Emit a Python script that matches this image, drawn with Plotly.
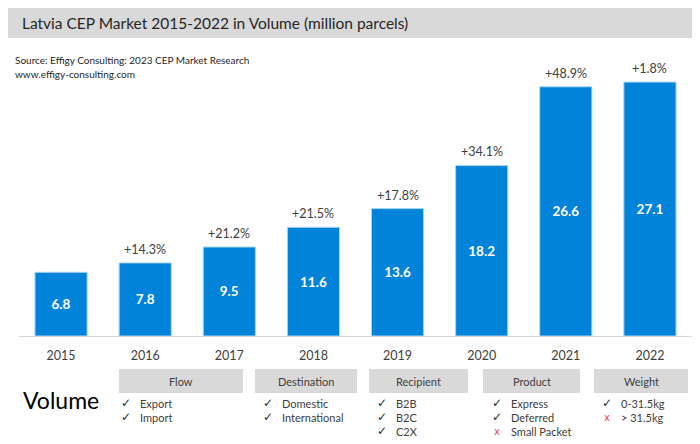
import plotly.graph_objects as go

W, H = 700, 444

years = ['2015', '2016', '2017', '2018', '2019', '2020', '2021', '2022']
volume = [6.8, 7.8, 9.5, 11.6, 13.6, 18.2, 26.6, 27.1]
growth = ['', '+14.3%', '+21.2%', '+21.5%', '+17.8%', '+34.1%', '+48.9%', '+1.8%']

title_text = 'Latvia CEP Market 2015-2022 in Volume (million parcels)'
source_lines = ['Source: Effigy Consulting: 2023 CEP Market Research', 'www.effigy-consulting.com']

categories = ['Flow', 'Destination', 'Recipient', 'Product', 'Weight']
cat_items = [
    [('Export', True), ('Import', True)],
    [('Domestic', True), ('International', True)],
    [('B2B', True), ('B2C', True), ('C2X', True)],
    [('Express', True), ('Deferred', True), ('Small Packet', False)],
    [('0-31.5kg', True), ('> 31.5kg', False)],
]

FONT = 'Lato'
BAR = '#0283DA'
GREY = '#D9D9D9'
TXT = '#404040'


def px(x):
    return x / W


def py(y):
    return 1 - y / H


fig = go.Figure()
fig.add_trace(go.Bar(
    x=years, y=volume,
    marker=dict(color=BAR, line=dict(color='#A9D6F5', width=1)),
    text=[f'{v:.1f}' for v in volume],
    textposition='inside', insidetextanchor='middle',
    textfont=dict(family=FONT, size=13.5, color='white', weight='bold'),
    width=0.62, hoverinfo='skip',
))

ann = []
shapes = []

# growth labels above bars (category axis -> use index)
for i, (v, g) in enumerate(zip(volume, growth)):
    if g:
        ann.append(dict(x=i, y=v, xref='x', yref='y', text=g, showarrow=False,
                        yanchor='bottom', yshift=4,
                        font=dict(family=FONT, size=12.5, color=TXT)))

# title band
shapes.append(dict(type='rect', xref='paper', yref='paper', x0=px(8), x1=px(692), y0=py(38), y1=py(8),
                   fillcolor=GREY, line_width=0, layer='below'))
ann.append(dict(x=px(20), y=py(23), xref='paper', yref='paper', text=title_text, showarrow=False,
                xanchor='left', yanchor='middle', font=dict(family=FONT, size=15.5, color='#262626')))

for i, line in enumerate(source_lines):
    ann.append(dict(x=px(13), y=py(60 + 14 * i), xref='paper', yref='paper', text=line, showarrow=False,
                    xanchor='left', yanchor='middle', font=dict(family=FONT, size=10, color='#262626')))

# bottom legend of scope
ann.append(dict(x=px(21), y=py(400), xref='paper', yref='paper', text='Volume', showarrow=False,
                xanchor='left', yanchor='middle', font=dict(family=FONT, size=23, color='black')))

boxes = [(119, 243), (255, 357), (369, 468), (483, 580), (594, 688)]
check_x = [126, 268, 382, 497, 607]
row_y = [403, 417, 431]
for (x0, x1), cat, items, cx in zip(boxes, categories, cat_items, check_x):
    shapes.append(dict(type='rect', xref='paper', yref='paper', x0=px(x0), x1=px(x1), y0=py(393), y1=py(369),
                       fillcolor=GREY, line_width=0, layer='below'))
    ann.append(dict(x=px((x0 + x1) / 2), y=py(381), xref='paper', yref='paper', text=cat, showarrow=False,
                    xanchor='center', yanchor='middle', font=dict(family=FONT, size=11, color=TXT)))
    for (label, ok), ry in zip(items, row_y):
        ann.append(dict(x=px(cx), y=py(ry), xref='paper', yref='paper',
                        text='✓' if ok else 'x', showarrow=False, xanchor='center', yanchor='middle',
                        font=dict(family='DejaVu Sans', size=12 if ok else 10,
                                  color='#262626' if ok else '#E8464A')))
        ann.append(dict(x=px(cx + 12), y=py(ry), xref='paper', yref='paper', text=label, showarrow=False,
                        xanchor='left', yanchor='middle', font=dict(family=FONT, size=11, color=TXT)))

fig.update_layout(
    width=W, height=H,
    margin=dict(l=0, r=0, t=0, b=0),
    paper_bgcolor='white', plot_bgcolor='white',
    showlegend=False,
    annotations=ann, shapes=shapes,
    xaxis=dict(type='category', domain=[px(19), px(692)], range=[-0.5, len(years) - 0.5],
               showgrid=False, showline=True,
               linecolor=GREY, linewidth=1, ticks='', automargin=False, ticklabelstandoff=8,
               tickfont=dict(family=FONT, size=12.5, color=TXT), fixedrange=True),
    yaxis=dict(domain=[py(336), py(60)], range=[0, 276 / 9.37], visible=False,
               automargin=False, fixedrange=True),
)

fig.write_html('out.html', config={'displayModeBar': False},
               post_script="document.body.style.margin='0';")
